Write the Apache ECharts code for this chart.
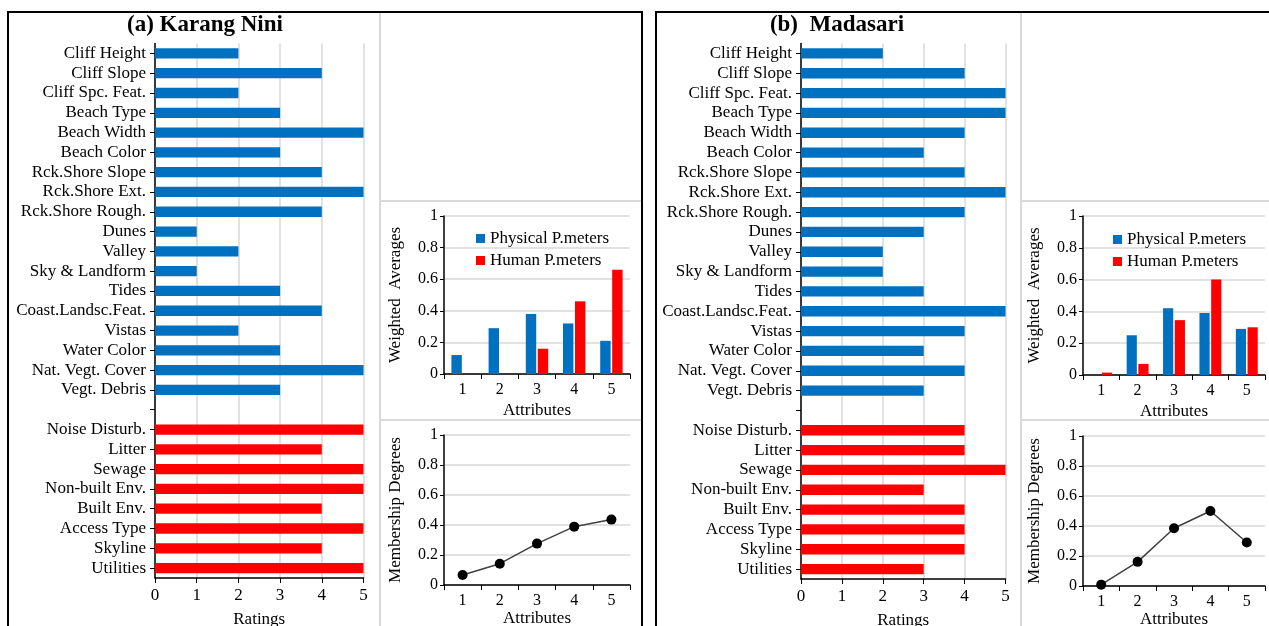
<!DOCTYPE html>
<html>
<head>
<meta charset="utf-8">
<script src="https://cdn.jsdelivr.net/npm/echarts@6/dist/echarts.min.js"></script>
<style>
  html, body { margin: 0; padding: 0; background: #fff; }
  #chart { width: 1269px; height: 626px; }
</style>
</head>
<body>
<div id="chart"></div>
<script>
// category labels (top to bottom)
const physicalLabels = ["Cliff Height", "Cliff Slope", "Cliff Spc. Feat.", "Beach Type", "Beach Width",
  "Beach Color", "Rck.Shore Slope", "Rck.Shore Ext.", "Rck.Shore Rough.", "Dunes", "Valley",
  "Sky & Landform", "Tides", "Coast.Landsc.Feat.", "Vistas", "Water Color", "Nat. Vegt. Cover", "Vegt. Debris"];
const humanLabels = ["Noise Disturb.", "Litter", "Sewage", "Non-built Env.", "Built Env.",
  "Access Type", "Skyline", "Utilities"];

// (a) Karang Nini
const physRatingsA = [2, 4, 2, 3, 5, 3, 4, 5, 4, 1, 2, 1, 3, 4, 2, 3, 5, 3];
const humanRatingsA = [5, 4, 5, 5, 4, 5, 4, 5];
// (b) Madasari
const physRatingsB = [2, 4, 5, 5, 4, 3, 4, 5, 4, 3, 2, 2, 3, 5, 4, 3, 4, 3];
const humanRatingsB = [4, 4, 5, 3, 4, 4, 4, 3];

const attributes = ["1", "2", "3", "4", "5"];
const physWeightedA = [0.12, 0.29, 0.38, 0.32, 0.21];
const humanWeightedA = [0, 0, 0.16, 0.46, 0.66];
const physWeightedB = [0, 0.25, 0.42, 0.39, 0.29];
const humanWeightedB = [0.015, 0.07, 0.345, 0.6, 0.3];
const membershipA = [0.067, 0.142, 0.276, 0.389, 0.436];
const membershipB = [0.009, 0.161, 0.385, 0.5, 0.29];

const BLUE = "#0070C0";
const RED = "#FF0000";
const GRID_GREY = "#d9d9d9";
const FONT = "Liberation Serif";

const categories = [...physicalLabels, "", ...humanLabels];

function ratingData(phys, human) {
  return [
    ...phys.map(v => ({ value: v, itemStyle: { color: BLUE } })),
    "-",
    ...human.map(v => ({ value: v, itemStyle: { color: RED } })),
  ];
}

const chart = echarts.init(document.getElementById("chart"));

// fixed plot areas; outerBoundsMode none keeps ECharts from shrinking them
const grids = [
  { left: 155, top: 43.5, width: 208.5, height: 534.5 },   // a main
  { left: 444, top: 216, width: 186, height: 158 },        // a weighted
  { left: 444, top: 435, width: 186, height: 150 },        // a membership
  { left: 801, top: 43.5, width: 204.5, height: 535.5 },   // b main
  { left: 1083, top: 216, width: 182, height: 159 },       // b weighted
  { left: 1083, top: 436, width: 182, height: 150 },       // b membership
].map(g => ({ ...g, containLabel: false, outerBoundsMode: "none" }));

function mainX(gi) {
  return {
    type: "value", gridIndex: gi, min: 0, max: 5, interval: 1,
    name: "Ratings", nameLocation: "middle", nameGap: 33,
    nameTextStyle: { fontFamily: FONT, fontSize: 17, color: "#000" },
    axisLine: { show: true, lineStyle: { color: "#000", width: 1.5 } },
    axisTick: { show: true, length: 5, lineStyle: { color: "#000" } },
    axisLabel: { fontFamily: FONT, fontSize: 17, color: "#000", margin: 9 },
    splitLine: { show: true, lineStyle: { color: GRID_GREY, width: 1.5 } },
  };
}
function mainY(gi) {
  return {
    type: "category", gridIndex: gi, data: categories, inverse: true,
    axisLine: { show: true, lineStyle: { color: "#000", width: 1.5 } },
    axisTick: { show: true, alignWithLabel: true, length: 5, lineStyle: { color: "#000" } },
    axisLabel: { fontFamily: FONT, fontSize: 17, color: "#000", margin: 9, interval: 0 },
  };
}
function smallX(gi, gap) {
  return {
    type: "category", gridIndex: gi, data: attributes,
    name: "Attributes", nameLocation: "middle", nameGap: gap,
    nameTextStyle: { fontFamily: FONT, fontSize: 17, color: "#000" },
    axisLine: { show: true, lineStyle: { color: "#000", width: 1.5 } },
    axisTick: { show: true, length: 5, lineStyle: { color: "#000" } },
    axisLabel: { fontFamily: FONT, fontSize: 16, color: "#000", margin: 8 },
  };
}
function smallY(gi, name) {
  return {
    type: "value", gridIndex: gi, min: 0, max: 1, interval: 0.2,
    name: name, nameLocation: "middle", nameGap: 40,
    nameTextStyle: { fontFamily: FONT, fontSize: 17, color: "#000" },
    axisLine: { show: true, lineStyle: { color: "#000", width: 1.5 } },
    axisTick: { show: true, length: 4, lineStyle: { color: "#000" } },
    axisLabel: { fontFamily: FONT, fontSize: 16, color: "#000", margin: 6 },
    splitLine: { show: true, lineStyle: { color: GRID_GREY, width: 1.5 } },
  };
}

function frameGraphics(dividerX, right) {
  return [
    { type: "line", shape: { x1: dividerX, y1: 12, x2: dividerX, y2: 626 }, style: { stroke: GRID_GREY, lineWidth: 2 } },
    { type: "line", shape: { x1: dividerX, y1: 201, x2: right, y2: 201 }, style: { stroke: GRID_GREY, lineWidth: 2 } },
    { type: "line", shape: { x1: dividerX, y1: 420, x2: right, y2: 420 }, style: { stroke: GRID_GREY, lineWidth: 2 } },
  ];
}

const option = {
  animation: false,
  backgroundColor: "#fff",
  title: [
    { text: "(a) Karang Nini", left: 200, top: 9, textAlign: "center",
      textStyle: { fontFamily: FONT, fontSize: 23, fontWeight: "bold", color: "#000" } },
    { text: "(b)  Madasari", left: 832, top: 9, textAlign: "center",
      textStyle: { fontFamily: FONT, fontSize: 23, fontWeight: "bold", color: "#000" } },
  ],
  legend: [
    { orient: "vertical", left: 471, top: 225, itemWidth: 9, itemHeight: 9, itemGap: 5,
      icon: "rect", data: ["Physical P.meters", "Human P.meters"],
      textStyle: { fontFamily: FONT, fontSize: 17, color: "#000" } },
    { orient: "vertical", left: 1108, top: 226, itemWidth: 9, itemHeight: 9, itemGap: 5,
      icon: "rect", data: ["Physical P.meters ", "Human P.meters "],
      textStyle: { fontFamily: FONT, fontSize: 17, color: "#000" } },
  ],
  grid: grids,
  xAxis: [mainX(0), smallX(1, 28), smallX(2, 24), mainX(3), smallX(4, 28), smallX(5, 24)],
  yAxis: [mainY(0), smallY(1, "Weighted  Averages"), smallY(2, "Membership Degrees"),
          mainY(3), smallY(4, "Weighted  Averages"), smallY(5, "Membership Degrees")],
  graphic: [
    ...frameGraphics(380, 641),
    ...frameGraphics(1021, 1269),
    { type: "rect", shape: { x: 8, y: 12, width: 634, height: 630 }, style: { fill: null, stroke: "#000", lineWidth: 2 } },
    { type: "rect", shape: { x: 656, y: 12, width: 640, height: 630 }, style: { fill: null, stroke: "#000", lineWidth: 2 } },
  ],
  series: [
    { type: "bar", xAxisIndex: 0, yAxisIndex: 0, barWidth: "52%", data: ratingData(physRatingsA, humanRatingsA) },
    { name: "Physical P.meters", type: "bar", xAxisIndex: 1, yAxisIndex: 1, barWidth: "28%", barGap: "15%",
      itemStyle: { color: BLUE }, data: physWeightedA },
    { name: "Human P.meters", type: "bar", xAxisIndex: 1, yAxisIndex: 1, barWidth: "28%", barGap: "15%",
      itemStyle: { color: RED }, data: humanWeightedA },
    { type: "line", xAxisIndex: 2, yAxisIndex: 2, data: membershipA, symbol: "circle", symbolSize: 10,
      itemStyle: { color: "#000" }, lineStyle: { color: "#404040", width: 1.5 } },
    { type: "bar", xAxisIndex: 3, yAxisIndex: 3, barWidth: "52%", data: ratingData(physRatingsB, humanRatingsB) },
    { name: "Physical P.meters ", type: "bar", xAxisIndex: 4, yAxisIndex: 4, barWidth: "28%", barGap: "15%",
      itemStyle: { color: BLUE }, data: physWeightedB },
    { name: "Human P.meters ", type: "bar", xAxisIndex: 4, yAxisIndex: 4, barWidth: "28%", barGap: "15%",
      itemStyle: { color: RED }, data: humanWeightedB },
    { type: "line", xAxisIndex: 5, yAxisIndex: 5, data: membershipB, symbol: "circle", symbolSize: 10,
      itemStyle: { color: "#000" }, lineStyle: { color: "#404040", width: 1.5 } },
  ],
};

chart.setOption(option);
window.addEventListener("resize", () => chart.resize());
</script>
</body>
</html>
